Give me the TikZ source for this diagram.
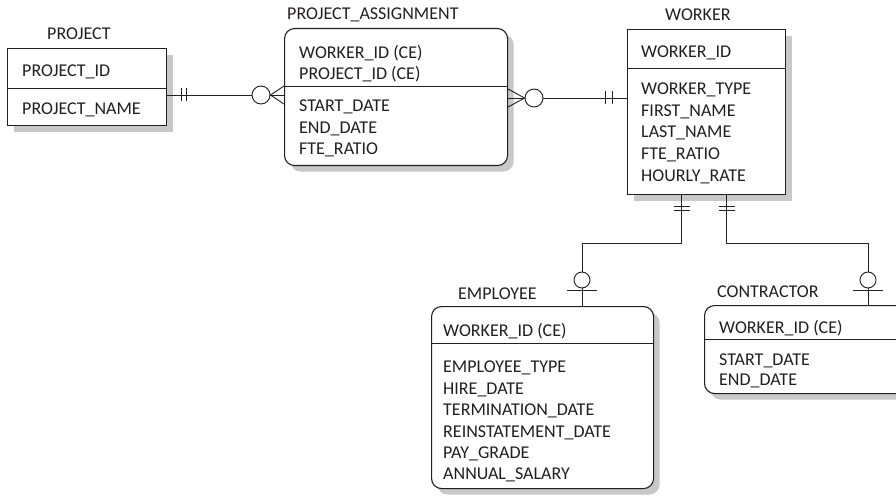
\documentclass[tikz,border=0pt]{standalone}
\usepackage{fontspec}
\setmainfont{Carlito}
\usetikzlibrary{calc,shadows}
\definecolor{ink}{RGB}{35,31,32}
\definecolor{shd}{RGB}{200,200,200}
\begin{document}
\begin{tikzpicture}[x=1pt,y=-1pt,
  font=\fontsize{18}{21}\selectfont, text=ink,
  box/.style={draw=ink, line width=1.1pt, fill=white, anchor=north west, inner sep=0pt,
    drop shadow={shadow xshift=6pt, shadow yshift=-6pt, fill=shd, opacity=1}},
  rbox/.style={box, rounded corners=10pt},
  attr/.style={anchor=base west, inner sep=0pt},
  ttl/.style={anchor=base west, inner sep=0pt},
  divider/.style={draw=ink, line width=1pt},
  rel/.style={draw=ink, line width=0.9pt},
  ring/.style={circle, draw=ink, line width=0.9pt, fill=white, inner sep=0pt, minimum size=18pt},
]
\useasboundingbox (0,0) rectangle (896,497);
\clip (0,0) rectangle (896,497);

% ---------- boxes ----------
\node[box, minimum width=159pt, minimum height=77pt] (proj) at (7,48) {};
\node[rbox, minimum width=223pt, minimum height=137pt] (pa) at (284,28) {};
\node[box, minimum width=158pt, minimum height=165pt] (worker) at (627,29) {};
\node[rbox, minimum width=222pt, minimum height=182pt] (emp) at (431,306) {};
\node[rbox, minimum width=215pt, minimum height=88pt] (con) at (704,305) {};

% dividers
\draw[divider] ($(proj.north west)+(0,41)$) -- ($(proj.north east)+(0,41)$);
\draw[divider] ($(pa.north west)+(0,59)$) -- ($(pa.north east)+(0,59)$);
\draw[divider] ($(worker.north west)+(0,40)$) -- ($(worker.north east)+(0,40)$);
\draw[divider] ($(emp.north west)+(0,37)$) -- ($(emp.north east)+(0,37)$);
\draw[divider] ($(con.north west)+(0,34)$) -- ($(con.north east)+(0,34)$);

% ---------- titles ----------
\node[ttl] (tproj) at (47,40) {PROJECT};
\node[ttl] (tpa) at (287,20) {PROJECT\_ASSIGNMENT};
\node[ttl] (tworker) at (665,21) {WORKER};
\node[ttl] (temp) at (458,299) {EMPLOYEE};
\node[ttl] (tcon) at (717,297) {CONTRACTOR};

% ---------- attributes ----------
\node[attr] (p1) at (22,77) {PROJECT\_ID};
\node[attr] (p2) at (22,115) {PROJECT\_NAME};

\node[attr] (a1) at (299,59) {WORKER\_ID (CE)};
\node[attr] (a2) at (299,80) {PROJECT\_ID (CE)};
\node[attr] (a3) at (299,112) {START\_DATE};
\node[attr] (a4) at (299,134) {END\_DATE};
\node[attr] (a5) at (299,155) {FTE\_RATIO};

\node[attr] (w1) at (641,58) {WORKER\_ID};
\node[attr] (w2) at (641,95) {WORKER\_TYPE};
\node[attr] (w3) at (641,117) {FIRST\_NAME};
\node[attr] (w4) at (641,138) {LAST\_NAME};
\node[attr] (w5) at (641,160) {FTE\_RATIO};
\node[attr] (w6) at (641,182) {HOURLY\_RATE};

\node[attr] (e1) at (443,336) {WORKER\_ID (CE)};
\node[attr] (e2) at (443,372) {EMPLOYEE\_TYPE};
\node[attr] (e3) at (443,394) {HIRE\_DATE};
\node[attr] (e4) at (443,415) {TERMINATION\_DATE};
\node[attr] (e5) at (443,437) {REINSTATEMENT\_DATE};
\node[attr] (e6) at (443,458) {PAY\_GRADE};
\node[attr] (e7) at (443,479) {ANNUAL\_SALARY};

\node[attr] (c1) at (719,333) {WORKER\_ID (CE)};
\node[attr] (c2) at (719,365) {START\_DATE};
\node[attr] (c3) at (719,385) {END\_DATE};

% ---------- PROJECT -- PROJECT_ASSIGNMENT ----------
\node[ring] (o1) at (261,95) {};
\draw[rel] (proj.east |- o1) -- (o1.west);
\draw[rel] ($(proj.east |- o1)+(14,-6.5)$) -- +(0,13);
\draw[rel] ($(proj.east |- o1)+(19,-6.5)$) -- +(0,13);
\draw[rel] ($(pa.west |- o1)+(0,-9)$) -- (o1.east) -- ($(pa.west |- o1)+(0,9)$);
\draw[rel] (pa.west |- o1) -- (o1.east);

% ---------- PROJECT_ASSIGNMENT -- WORKER ----------
\node[ring] (o2) at (534,98) {};
\draw[rel] (o2.east) -- (worker.west |- o2);
\draw[rel] ($(worker.west |- o2)+(-22,-6.5)$) -- +(0,13);
\draw[rel] ($(worker.west |- o2)+(-15,-6.5)$) -- +(0,13);
\draw[rel] ($(pa.east |- o2)+(0,-9)$) -- (o2.west) -- ($(pa.east |- o2)+(0,9)$);
\draw[rel] (pa.east |- o2) -- (o2.west);

% ---------- WORKER -- EMPLOYEE ----------
\node[ring, minimum size=16pt] (o3) at (582,280) {};
\draw[rel] ($(worker.south)+(-25,0)$) -- ++(0,48) -| (o3.north);
\draw[rel] (o3.south) -- (emp.north -| o3);
\draw[rel] ($(o3.south)+(-15,2)$) -- +(30,0);
\draw[rel] ($(worker.south)+(-33,11)$) -- +(16,0);
\draw[rel] ($(worker.south)+(-33,15)$) -- +(16,0);

% ---------- WORKER -- CONTRACTOR ----------
\node[ring, minimum size=16pt] (o4) at (868,280) {};
\draw[rel] ($(worker.south)+(20,0)$) -- ++(0,48) -| (o4.north);
\draw[rel] (o4.south) -- (con.north -| o4);
\draw[rel] ($(o4.south)+(-15,2)$) -- +(30,0);
\draw[rel] ($(worker.south)+(12,11)$) -- +(16,0);
\draw[rel] ($(worker.south)+(12,15)$) -- +(16,0);
\end{tikzpicture}
\end{document}
